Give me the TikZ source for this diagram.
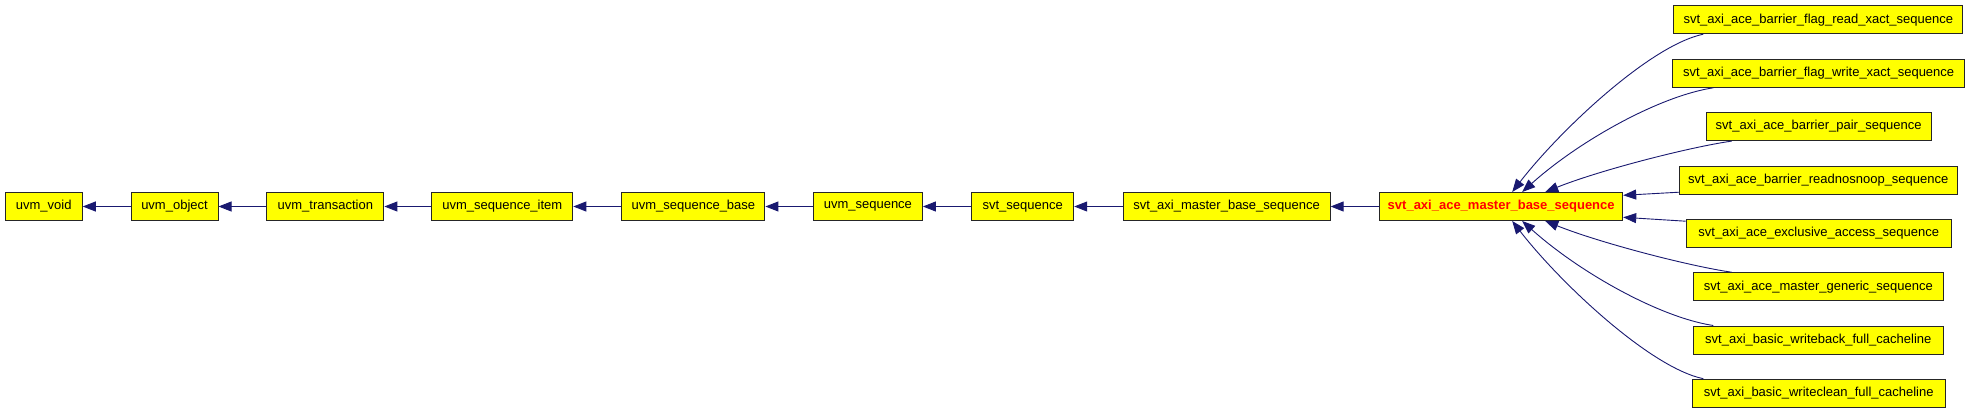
\documentclass[tikz,border=0pt]{standalone}
\usepackage{fontspec}
\setmainfont{Liberation Sans}
\usetikzlibrary{arrows.meta}
\definecolor{edgeblue}{RGB}{25,25,112}
\definecolor{boxyellow}{RGB}{255,255,0}
\tikzset{
  box/.style={draw=black!85, fill=boxyellow, line width=1pt, inner sep=0pt,
    minimum height=28pt, font=\fontsize{13}{15}\selectfont, text=black},
  mainbox/.style={box, text=red, font=\fontsize{13}{15}\selectfont\bfseries},
  edge/.style={draw=edgeblue, line width=0.9pt, -{Triangle[length=13pt,width=10pt]}}
}
\begin{document}
\begin{tikzpicture}[x=1pt,y=-1pt]
\useasboundingbox (0,0) rectangle (1971,413);
% main row
\node[box, minimum width=77pt] (void) at (43.75,206.5) {uvm\_void};
\node[box, minimum width=87pt] (object) at (174.5,206.5) {uvm\_object};
\node[box, minimum width=117pt] (trans) at (325.35,206.5) {uvm\_transaction};
\node[box, minimum width=141pt] (item) at (502.3,206.5) {uvm\_sequence\_item};
\node[box, minimum width=143pt] (seqbase) at (693.4,206.5) {uvm\_sequence\_base};
\node[box, minimum width=109pt] (uvmseq) at (867.9,206.5) {uvm\_sequence};
\node[box, minimum width=102pt] (svtseq) at (1022.7,206.5) {svt\_sequence};
\node[box, minimum width=207pt] (mbase) at (1226.6,206.5) {svt\_axi\_master\_base\_sequence};
\node[mainbox, minimum width=243pt] (main) at (1501.2,206.5) {svt\_axi\_ace\_master\_base\_sequence};
% right column
\node[box, minimum width=289pt] (r1) at (1818.3,19.7) {svt\_axi\_ace\_barrier\_flag\_read\_xact\_sequence};
\node[box, minimum width=291.7pt] (r2) at (1818.7,73.3) {svt\_axi\_ace\_barrier\_flag\_write\_xact\_sequence};
\node[box, minimum width=225pt] (r3) at (1818.7,126.6) {svt\_axi\_ace\_barrier\_pair\_sequence};
\node[box, minimum width=277.7pt] (r4) at (1818.3,180) {svt\_axi\_ace\_barrier\_readnosnoop\_sequence};
\node[box, minimum width=265pt] (r5) at (1818.7,233.3) {svt\_axi\_ace\_exclusive\_access\_sequence};
\node[box, minimum width=250.3pt] (r6) at (1818.3,286.7) {svt\_axi\_ace\_master\_generic\_sequence};
\node[box, minimum width=250.3pt] (r7) at (1818.3,340) {svt\_axi\_basic\_writeback\_full\_cacheline};
\node[box, minimum width=253pt] (r8) at (1818.7,393.2) {svt\_axi\_basic\_writeclean\_full\_cacheline};
% main chain edges
\draw[edge] (object) -- (void);
\draw[edge] (trans) -- (object);
\draw[edge] (item) -- (trans);
\draw[edge] (seqbase) -- (item);
\draw[edge] (uvmseq) -- (seqbase);
\draw[edge] (svtseq) -- (uvmseq);
\draw[edge] (mbase) -- (svtseq);
\draw[edge] (main) -- (mbase);
% fan-in edges
\draw[edge] ([xshift=30pt]r1.south west) .. controls +(-53,11) and +(48,-62) .. ([xshift=133pt]main.north west);
\draw[edge] ([xshift=41pt]r2.south west) .. controls +(-53,8) and +(58,-52) .. ([xshift=143pt]main.north west);
\draw[edge] ([xshift=26pt]r3.south west) .. controls +(-42,6) and +(55,-22) .. ([xshift=166pt]main.north west);
\draw[edge] ([yshift=2.3pt]r4.south west) -- ([yshift=-3.3pt]main.north east);
\draw[edge] ([yshift=-2.4pt]r5.north west) -- ([yshift=3.7pt]main.south east);
\draw[edge] ([xshift=39pt]r6.north west) .. controls +(-42,-6) and +(55,22) .. ([xshift=166pt]main.south west);
\draw[edge] ([xshift=20.6pt]r7.north west) .. controls +(-53,-8) and +(58,52) .. ([xshift=143pt]main.south west);
\draw[edge] ([xshift=11.6pt]r8.north west) .. controls +(-53,-11) and +(48,62) .. ([xshift=133pt]main.south west);
\end{tikzpicture}
\end{document}
